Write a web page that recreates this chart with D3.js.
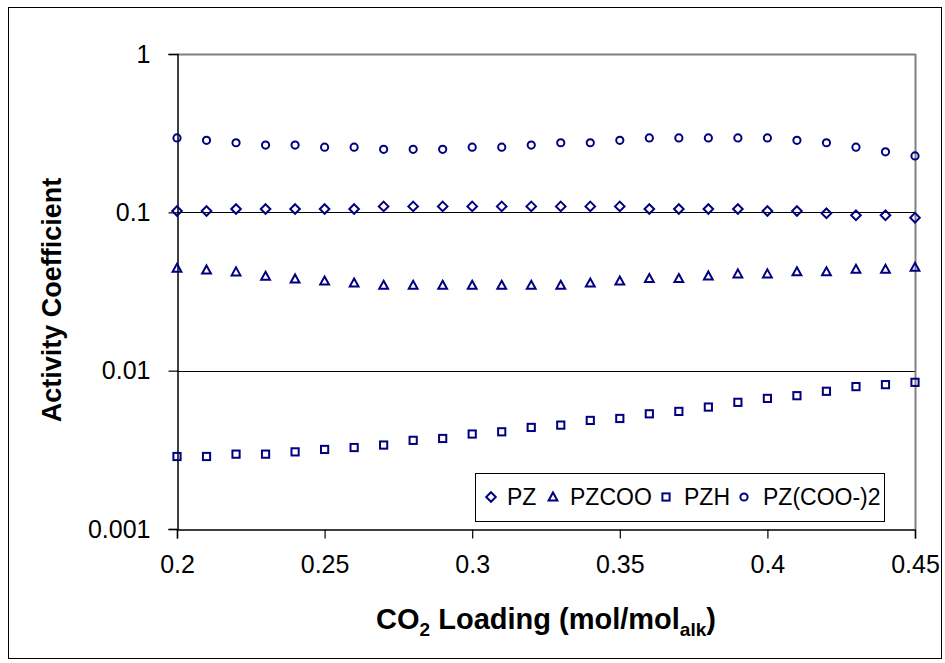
<!DOCTYPE html>
<html><head><meta charset="utf-8">
<script src="https://cdn.jsdelivr.net/npm/d3@7"></script>
<style>html,body{margin:0;padding:0;background:#fff;}svg{display:block;font-family:Arial,"Liberation Sans",sans-serif;}</style>
</head><body>
<svg id="chart" width="945" height="663"></svg>
<script>
const loading = [0.20,0.21,0.22,0.23,0.24,0.25,0.26,0.27,0.28,0.29,0.30,0.31,0.32,0.33,0.34,0.35,0.36,0.37,0.38,0.39,0.40,0.41,0.42,0.43,0.44,0.45];
const pz      = [0.102,0.102,0.105,0.105,0.105,0.105,0.105,0.109,0.109,0.109,0.109,0.109,0.109,0.109,0.109,0.109,0.105,0.105,0.105,0.105,0.102,0.102,0.0986,0.0958,0.0958,0.0925];
const pzcoo   = [0.0443,0.0432,0.0420,0.0394,0.0379,0.0368,0.0357,0.0346,0.0346,0.0346,0.0346,0.0346,0.0346,0.0346,0.0357,0.0368,0.0381,0.0381,0.0396,0.0408,0.0408,0.0421,0.0421,0.0436,0.0436,0.0449];
const pzh     = [0.00287,0.00287,0.00297,0.00297,0.00307,0.00318,0.00327,0.00339,0.00363,0.00373,0.00398,0.00411,0.00438,0.00453,0.00485,0.00499,0.00534,0.00553,0.00589,0.00631,0.00668,0.00695,0.00741,0.00793,0.00816,0.00844];
const pzcoo2  = [0.295,0.285,0.275,0.266,0.266,0.258,0.258,0.250,0.250,0.250,0.258,0.258,0.266,0.275,0.275,0.285,0.295,0.295,0.295,0.295,0.295,0.285,0.275,0.258,0.241,0.227];
const seriesNames = ["PZ","PZCOO","PZH","PZ(COO-)2"];
const seriesShapes = ["diamond","triangle","square","circle"];
const xTicks = [0.2,0.25,0.3,0.35,0.4,0.45];
const xTickLabels = ["0.2","0.25","0.3","0.35","0.4","0.45"];
const yTicks = [1,0.1,0.01,0.001];
const yTickLabels = ["1","0.1","0.01","0.001"];

const series = [pz, pzcoo, pzh, pzcoo2];
const color = "#000080";
const svg = d3.select("#chart");
const L = 177, R = 915, T = 54, B = 529;
const x = d3.scaleLinear().domain([0.2,0.45]).range([L,R]);
const y = d3.scaleLog().domain([0.001,1]).range([B,T]);

// outer border
svg.append("rect").attr("x",8.5).attr("y",7.5).attr("width",933).attr("height",651)
  .attr("fill","none").attr("stroke","#000").attr("stroke-width",1);

// gridlines
svg.append("g").selectAll("line").data([0.1,0.01]).join("line")
  .attr("x1",L).attr("x2",R).attr("y1",d=>Math.round(y(d))+0.5).attr("y2",d=>Math.round(y(d))+0.5)
  .attr("stroke","#000").attr("stroke-width",1);
// plot top/right border
svg.append("line").attr("x1",L).attr("x2",R+1).attr("y1",T+0.5).attr("y2",T+0.5).attr("stroke","#808080").attr("stroke-width",2);
svg.append("line").attr("x1",R+0.5).attr("x2",R+0.5).attr("y1",T).attr("y2",B).attr("stroke","#808080").attr("stroke-width",2);

// axes
const xAxis = d3.axisBottom(x).tickValues(xTicks).tickFormat((d,i)=>xTickLabels[i]).tickSize(9).tickPadding(17);
const gx = svg.append("g").attr("transform",`translate(0,${B+0.5})`).call(xAxis);
const yAxis = d3.axisLeft(y).tickValues(yTicks).tickFormat((d,i)=>yTickLabels[i]).tickSize(9).tickPadding(18);
const gy = svg.append("g").attr("transform",`translate(${L+0.5},0)`).call(yAxis);
[gx,gy].forEach(g=>{
  g.select(".domain").attr("stroke","#000").attr("stroke-width",1.5);
  g.selectAll(".tick line").attr("stroke","#000").attr("stroke-width",1.2);
  g.selectAll(".tick text").attr("fill","#000").style("font-size","25px").style("font-family","Arial, 'Liberation Sans', sans-serif");
});

// marker drawing
function marker(g, shape, cx, cy){
  if(shape==="circle") g.append("circle").attr("cx",cx).attr("cy",cy).attr("r",3.6);
  else if(shape==="square") g.append("rect").attr("x",cx-3.6).attr("y",cy-3.6).attr("width",7.2).attr("height",7.2);
  else if(shape==="diamond") g.append("path").attr("d",`M${cx},${cy-4.8}L${cx+4.8},${cy}L${cx},${cy+4.8}L${cx-4.8},${cy}Z`);
  else if(shape==="triangle") g.append("path").attr("d",`M${cx},${cy-4.6}L${cx+4.4},${cy+3.4}L${cx-4.4},${cy+3.4}Z`);
}
const pts = svg.append("g").attr("fill","none").attr("stroke",color).attr("stroke-width",2);
series.forEach((vals,si)=>{
  vals.forEach((v,i)=> marker(pts, seriesShapes[si], x(loading[i]), y(v)));
});

// legend
const lg = svg.append("g");
lg.append("rect").attr("x",475.5).attr("y",473.5).attr("width",409).attr("height",48).attr("fill","#fff").attr("stroke","#000").attr("stroke-width",1);
const legX = [491,553,666,744];
const legTX = [507,570,684,763];
const lgm = lg.append("g").attr("fill","none").attr("stroke",color).attr("stroke-width",2);
seriesNames.forEach((n,i)=>{
  marker(lgm, seriesShapes[i], legX[i], 497);
  lg.append("text").attr("x",legTX[i]).attr("y",505).attr("fill","#000").style("font-size","23px").text(n);
});

// axis titles
const xt = svg.append("text").attr("x",(L+R)/2).attr("y",629).attr("text-anchor","middle")
  .style("font-size","29px").style("font-weight","bold").attr("fill","#000");
xt.append("tspan").text("CO");
xt.append("tspan").attr("dy",7).style("font-size","19px").text("2");
xt.append("tspan").attr("dy",-7).text(" Loading (mol/mol");
xt.append("tspan").attr("dy",7).style("font-size","19px").text("alk");
xt.append("tspan").attr("dy",-7).text(")");

svg.append("text").attr("transform",`translate(61,300) rotate(-90)`).attr("text-anchor","middle")
  .style("font-size","27px").style("font-weight","bold").attr("fill","#000").text("Activity Coefficient");
</script>
</body></html>
